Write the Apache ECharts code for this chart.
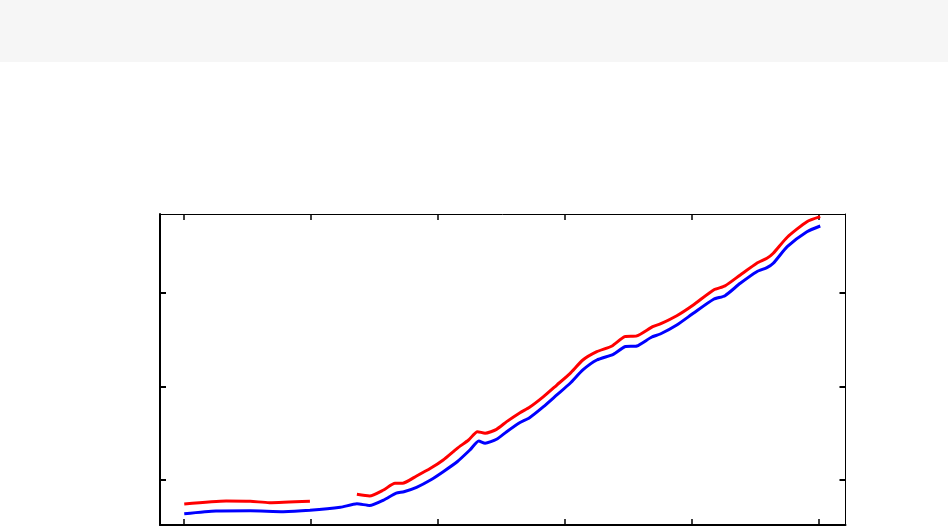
<!DOCTYPE html>
<html>
<head>
<meta charset="utf-8">
<script src="https://cdn.jsdelivr.net/npm/echarts@6/dist/echarts.min.js"></script>
<style>
  html, body { margin: 0; padding: 0; background: #ffffff; }
  #chart { width: 948px; height: 527px; }
</style>
</head>
<body>
<div id="chart"></div>
<script>
// ---- data ----
const xTicks = [1960, 1970, 1980, 1990, 2000, 2010];
const yTicks = [100, 200, 300];

const blueYears = [1960.0, 1962.5, 1965.2, 1967.8, 1969.9, 1972.3, 1973.6, 1974.6, 1975.7, 1976.7, 1977.3, 1978.3, 1979.4, 1980.4, 1981.5, 1982.5, 1983.2, 1983.7, 1984.6, 1985.4, 1986.45, 1987.2, 1988.3, 1989.35, 1990.4, 1991.4, 1992.5, 1993.8, 1994.7, 1995.65, 1996.8, 1997.5, 1998.8, 2000.1, 2001.7, 2002.6, 2003.8, 2005.1, 2005.9, 2006.4, 2007.5, 2009.05, 2010.1];
const blueValues = [64.0, 66.9, 67.2, 66.2, 67.6, 70.8, 74.6, 72.8, 78.6, 86.1, 87.5, 92.2, 100.0, 108.9, 119.5, 132.0, 141.6, 139.2, 143.5, 151.6, 161.4, 166.5, 178.3, 190.8, 203.3, 217.5, 228.1, 234.2, 242.3, 243.1, 252.4, 255.9, 265.5, 278.0, 293.0, 296.8, 310.0, 322.4, 326.7, 331.4, 349.1, 365.1, 371.2];

const redYears = [1960.0, 1963.3, 1965.2, 1966.7, 1969.9, 1971.8, 1973.6, 1974.6, 1975.7, 1976.6, 1977.2, 1978.3, 1979.4, 1980.4, 1981.5, 1982.4, 1983.1, 1983.7, 1984.6, 1985.4, 1986.45, 1987.2, 1988.3, 1989.35, 1990.4, 1991.4, 1992.5, 1993.7, 1994.7, 1995.65, 1996.9, 1997.5, 1998.8, 2000.1, 2001.7, 2002.6, 2003.8, 2005.1, 2005.9, 2006.4, 2007.5, 2009.05, 2010.1];
const redValues = [74.4, 77.6, 77.3, 75.8, 77.3, null, 84.7, 82.9, 89.3, 96.5, 96.5, 104.3, 112.5, 121.4, 133.8, 142.7, 151.6, 149.9, 154.1, 162.3, 171.9, 177.6, 189.0, 201.4, 213.9, 228.1, 237.0, 243.1, 253.0, 253.8, 263.7, 266.6, 275.4, 286.9, 302.9, 307.2, 318.9, 331.4, 336.7, 342.1, 359.2, 375.8, 381.2];

const X_MIN = 1958.09, X_MAX = 2012.09;
const Y_MIN = 51.95, Y_MAX = 384.0;

const bluePairs = blueYears.map((x, i) => [x, blueValues[i]]);
const redPairs = redYears.map((x, i) => [x, redValues[i] === null ? '-' : redValues[i]]);

const chart = echarts.init(document.getElementById('chart'), null, { renderer: 'canvas' });

function xAxisDef(pos, lw) {
  return {
    type: 'value', position: pos, min: X_MIN, max: X_MAX,
    axisLine: { show: true, onZero: false, lineStyle: { color: '#000', width: lw } },
    axisTick: { show: true, inside: true, length: 6, customValues: xTicks, lineStyle: { color: '#000', width: 1.5 } },
    axisLabel: { show: false },
    splitLine: { show: false }
  };
}
function yAxisDef(pos, lw) {
  return {
    type: 'value', position: pos, min: Y_MIN, max: Y_MAX,
    axisLine: { show: true, onZero: false, lineStyle: { color: '#000', width: lw } },
    axisTick: { show: true, inside: true, length: 6, customValues: yTicks, lineStyle: { color: '#000', width: 2 } },
    axisLabel: { show: false },
    splitLine: { show: false }
  };
}

chart.setOption({
  animation: false,
  backgroundColor: '#ffffff',
  graphic: [{
    type: 'rect', left: 0, top: 0, z: -10,
    shape: { width: 948, height: 62 },
    style: { fill: '#f6f6f6' }
  }],
  grid: { left: 160, right: 102.5, top: 214, bottom: 2, containLabel: false },
  xAxis: [xAxisDef('bottom', 2), xAxisDef('top', 1)],
  yAxis: [yAxisDef('left', 2), yAxisDef('right', 1)],
  series: [
    {
      type: 'line', xAxisIndex: 0, yAxisIndex: 0, data: bluePairs,
      showSymbol: false, smooth: 0.2, connectNulls: false,
      lineStyle: { color: '#0000ff', width: 3 }, z: 2
    },
    {
      type: 'line', xAxisIndex: 0, yAxisIndex: 0, data: redPairs,
      showSymbol: false, smooth: 0.2, connectNulls: false,
      lineStyle: { color: '#ff0000', width: 3 }, z: 3
    }
  ]
});
</script>
</body>
</html>
